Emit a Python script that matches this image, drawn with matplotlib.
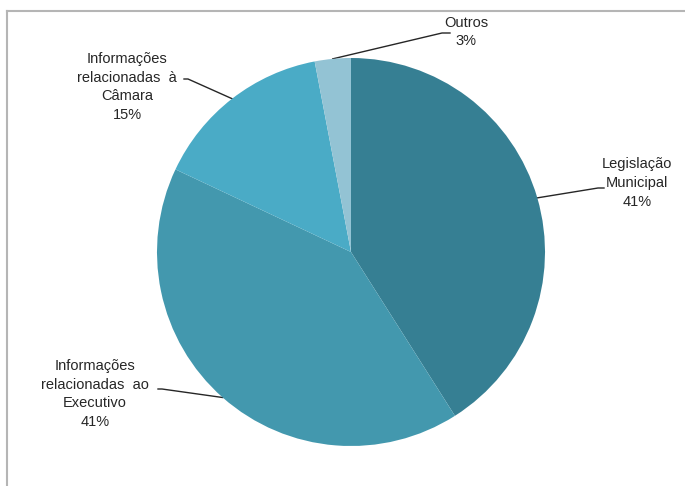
import numpy as np
import matplotlib
matplotlib.use("Agg")
import matplotlib.pyplot as plt
from matplotlib.lines import Line2D

# data
labels = ["Legislação\nMunicipal", "Informações\nrelacionadas  ao\nExecutivo",
          "Informações\nrelacionadas  à\nCâmara", "Outros"]
values = [41, 41, 15, 3]
colors = ["#367f93", "#4398ae", "#4aabc6", "#93c3d4"]

# label layout (text centre in pixels, elbow of leader line)
W, H = 685, 486
cx, cy, r = 351, 252, 194
text_pos = [(637, 183), (95, 394), (127, 87), (466, 32)]
elbow = [(598, 188), (162, 389), (188, 79), (442, 33)]
end = [(604, 188), (158, 389), (184, 79), (450, 33)]

plt.rcParams['font.family'] = ['Liberation Sans Narrow', 'Liberation Sans', 'DejaVu Sans']

fig = plt.figure(figsize=(W / 100, H / 100), dpi=100)
fig.patch.set_facecolor("white")

ax = fig.add_axes([0, 0, 1, 1])
ax.set_xlim(0, W)
ax.set_ylim(H, 0)
ax.axis("off")

pie_ax = fig.add_axes([(cx - r) / W, 1 - (cy + r) / H, 2 * r / W, 2 * r / H])
wedges, _ = pie_ax.pie(values, colors=colors, startangle=90, counterclock=False,
                       radius=1, wedgeprops=dict(linewidth=0))
pie_ax.set_xlim(-1, 1)
pie_ax.set_ylim(-1, 1)
pie_ax.set_aspect("auto")

for w, lab, v, tp, el, en in zip(wedges, labels, values, text_pos, elbow, end):
    mid = np.deg2rad((w.theta1 + w.theta2) / 2)
    ex = cx + r * np.cos(mid)
    ey = cy - r * np.sin(mid)
    ax.plot([ex, el[0], en[0]], [ey, el[1], en[1]], color="#262626", lw=1.0)
    ax.text(tp[0], tp[1], f"{lab}\n{v}%", ha="center", va="center",
            fontsize=10.5, color="#262626", linespacing=1.45)

# frame lines
ax.add_line(Line2D([7, 7], [11, H], color="#b5b5b5", lw=1.5))
ax.add_line(Line2D([7, W], [11, 11], color="#b5b5b5", lw=1.5))

fig.savefig("out.png", dpi=100)
